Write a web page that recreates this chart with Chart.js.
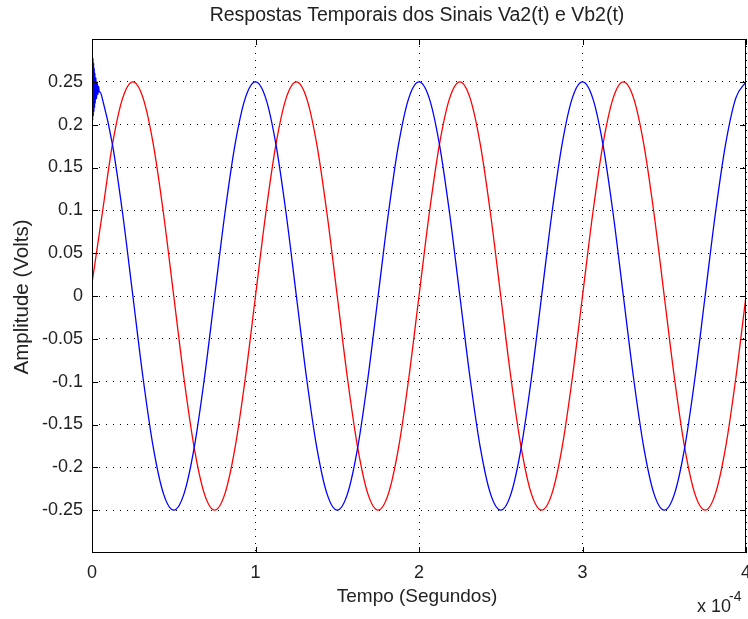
<!DOCTYPE html>
<html>
<head>
<meta charset="utf-8">
<script src="https://cdn.jsdelivr.net/npm/chart.js@4"></script>
<style>
  body { margin: 0; background: #fff; }
  #wrap { width: 748px; height: 619px; }
</style>
</head>
<body>
<div id="wrap"><canvas id="myChart" width="748" height="619"></canvas></div>
<script>
// time in units of 1e-4 s
const time = [
  0, 0.0625, 0.125, 0.1875, 0.25, 0.3125, 0.375, 0.4375, 0.5, 0.5625, 0.625, 0.6875, 0.75, 0.8125, 0.875, 0.9375,
  1, 1.0625, 1.125, 1.1875, 1.25, 1.3125, 1.375, 1.4375, 1.5, 1.5625, 1.625, 1.6875, 1.75, 1.8125, 1.875, 1.9375,
  2, 2.0625, 2.125, 2.1875, 2.25, 2.3125, 2.375, 2.4375, 2.5, 2.5625, 2.625, 2.6875, 2.75, 2.8125, 2.875, 2.9375,
  3, 3.0625, 3.125, 3.1875, 3.25, 3.3125, 3.375, 3.4375, 3.5, 3.5625, 3.625, 3.6875, 3.75, 3.8125, 3.875, 3.9375,
  4
];

// blue trace
const va2 = [
  0.25, 0.231, 0.177, 0.096, 0, -0.096, -0.177, -0.231, -0.25, -0.231, -0.177, -0.096, 0, 0.096, 0.177, 0.231,
  0.25, 0.231, 0.177, 0.096, 0, -0.096, -0.177, -0.231, -0.25, -0.231, -0.177, -0.096, 0, 0.096, 0.177, 0.231,
  0.25, 0.231, 0.177, 0.096, 0, -0.096, -0.177, -0.231, -0.25, -0.231, -0.177, -0.096, 0, 0.096, 0.177, 0.231,
  0.25, 0.231, 0.177, 0.096, 0, -0.096, -0.177, -0.231, -0.25, -0.231, -0.177, -0.096, 0, 0.096, 0.177, 0.231,
  0.25
];

// start-up ringing on the blue trace
const va2StartT = [0, 0.002, 0.004, 0.006, 0.008, 0.010, 0.012, 0.014, 0.016, 0.018, 0.020, 0.024, 0.028, 0.032, 0.036, 0.040, 0.045, 0.05];
const va2Start = [0.2, 0.284, 0.205, 0.278, 0.21, 0.272, 0.215, 0.266, 0.22, 0.26, 0.225, 0.255, 0.23, 0.25, 0.235, 0.245, 0.238, 0.238];

// red trace
const vb2 = [
  0.015, 0.096, 0.177, 0.231, 0.25, 0.231, 0.177, 0.096, 0, -0.096, -0.177, -0.231, -0.25, -0.231, -0.177, -0.096,
  0, 0.096, 0.177, 0.231, 0.25, 0.231, 0.177, 0.096, 0, -0.096, -0.177, -0.231, -0.25, -0.231, -0.177, -0.096,
  0, 0.096, 0.177, 0.231, 0.25, 0.231, 0.177, 0.096, 0, -0.096, -0.177, -0.231, -0.25, -0.231, -0.177, -0.096,
  0, 0.096, 0.177, 0.231, 0.25, 0.231, 0.177, 0.096, 0, -0.096, -0.177, -0.231, -0.25, -0.231, -0.177, -0.096,
  0
];

const xTicks = [0, 1, 2, 3, 4];
const yTicks = [-0.25, -0.2, -0.15, -0.1, -0.05, 0, 0.05, 0.1, 0.15, 0.2, 0.25];

const FONT = "'Liberation Sans', Arial, sans-serif";

function renderChart() {
  const ctx = document.getElementById("myChart");

  const blueData = [];
  for (let i = 0; i < va2StartT.length; i++) {
    blueData.push({ x: va2StartT[i], y: va2Start[i] });
  }
  for (let i = 1; i < time.length; i++) {
    blueData.push({ x: time[i], y: va2[i] });
  }
  const redData = [];
  for (let i = 0; i < time.length; i++) {
    redData.push({ x: time[i], y: vb2[i] });
  }

  // box, inward ticks and texts, MATLAB style
  const matlabFrame = {
    id: "matlabFrame",
    afterDraw(chart) {
      const c = chart.ctx;
      const a = chart.chartArea;
      const xs = chart.scales.x;
      const ys = chart.scales.y;
      c.save();
      c.strokeStyle = "#000";
      c.lineWidth = 1;
      c.strokeRect(Math.round(a.left) + 0.5, Math.round(a.top) + 0.5,
        Math.round(a.right - a.left) - 1, Math.round(a.bottom - a.top) - 1);
      c.beginPath();
      xTicks.forEach(function (t) {
        const px = Math.round(xs.getPixelForValue(t)) + 0.5;
        c.moveTo(px, a.bottom); c.lineTo(px, a.bottom - 6);
        c.moveTo(px, a.top); c.lineTo(px, a.top + 6);
      });
      yTicks.forEach(function (t) {
        const py = Math.round(ys.getPixelForValue(t)) + 0.5;
        c.moveTo(a.left, py); c.lineTo(a.left + 6, py);
        c.moveTo(a.right, py); c.lineTo(a.right - 6, py);
      });
      c.stroke();

      c.fillStyle = "#222";
      c.textBaseline = "middle";
      c.textAlign = "center";
      c.font = "19.5px " + FONT;
      c.fillText("Respostas Temporais dos Sinais Va2(t) e Vb2(t)", 417, 16);
      c.font = "19px " + FONT;
      c.fillText("Tempo (Segundos)", 417, 597);
      c.save();
      c.translate(22, 297);
      c.rotate(-Math.PI / 2);
      c.font = "20.5px " + FONT;
      c.fillText("Amplitude (Volts)", 0, 0);
      c.restore();
      c.textAlign = "left";
      c.font = "18px " + FONT;
      c.fillText("x 10", 697, 607);
      c.font = "14px " + FONT;
      c.fillText("-4", 729, 597);
      c.restore();
    }
  };

  const config = {
    type: "line",
    data: {
      datasets: [
        {
          label: "Va2(t)",
          data: blueData,
          borderColor: "#0000ff",
          borderWidth: 1.3,
          pointRadius: 0,
          cubicInterpolationMode: "monotone",
        },
        {
          label: "Vb2(t)",
          data: redData,
          borderColor: "#ff0000",
          borderWidth: 1.3,
          pointRadius: 0,
          cubicInterpolationMode: "monotone",
        },
      ],
    },
    options: {
      responsive: false,
      animation: false,
      events: [],
      layout: { padding: { top: 39, right: 2, left: 0, bottom: 0 } },
      plugins: { legend: { display: false }, tooltip: { enabled: false }, title: { display: false } },
      scales: {
        x: {
          type: "linear",
          min: 0,
          max: 4,
          afterBuildTicks(scale) { scale.ticks = xTicks.map(function (v) { return { value: v }; }); },
          afterFit(scale) { scale.height = 66; scale.paddingLeft = 0; scale.paddingRight = 0; },
          ticks: {
            color: "#222",
            font: { family: FONT, size: 18 },
            padding: 9,
            maxRotation: 0,
            callback(v) { return String(v); },
          },
          grid: { color: "#000", drawTicks: false, lineWidth: 1 },
          border: { display: false, dash: [1, 6] },
        },
        y: {
          type: "linear",
          min: -0.3,
          max: 0.3,
          afterBuildTicks(scale) { scale.ticks = yTicks.map(function (v) { return { value: v }; }); },
          afterFit(scale) { scale.width = 92; scale.paddingTop = 0; scale.paddingBottom = 0; },
          ticks: {
            color: "#222",
            font: { family: FONT, size: 18 },
            padding: 9,
            callback(v) { return String(parseFloat(v.toFixed(2))); },
          },
          grid: { color: "#000", drawTicks: false, lineWidth: 1 },
          border: { display: false, dash: [1, 6] },
        },
      },
    },
    plugins: [matlabFrame],
  };
  new Chart(ctx, config);
}

renderChart();
</script>
</body>
</html>
